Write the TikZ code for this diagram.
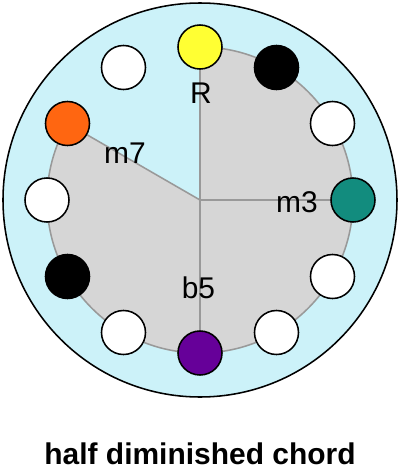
\documentclass[tikz,border=0pt]{standalone}
\usepackage{fontspec}
\setmainfont{Liberation Sans}
\definecolor{wheelbg}{HTML}{CCF2F9}
\definecolor{chordfill}{HTML}{D6D6D6}
\definecolor{chordline}{HTML}{999999}
\definecolor{rootcol}{HTML}{FFFF33}
\definecolor{thirdcol}{HTML}{128C7E}
\definecolor{fifthcol}{HTML}{660099}
\definecolor{seventhcol}{HTML}{FF6611}
\tikzset{
    note/.style={circle, draw=black, line width=1.1pt, minimum size=1.1cm, inner sep=0pt},
    interval/.style={font=\fontsize{21.3}{25}\selectfont, anchor=base, inner sep=0pt},
    spoke/.style={draw=chordline, line width=1.1pt}
}
\begin{document}
\begin{tikzpicture}[x=0.025cm, y=0.025cm]
    \useasboundingbox (-200,-269) rectangle (200,200);

    \coordinate (c) at (0,0);

    % Wheel background
    \filldraw[fill=wheelbg, draw=black, line width=1.1pt] (c) circle (197);

    % Chord region (R round to m7)
    \filldraw[fill=chordfill, spoke] (c) -- (90:153) arc[start angle=90, end angle=-210, radius=153] -- cycle;

    % Notes
    \foreach \k/\col in {0/rootcol, 1/black, 2/white, 3/thirdcol, 4/white, 5/white,
                         6/fifthcol, 7/white, 8/black, 9/white, 10/seventhcol, 11/white}
        \node[note, fill=\col] (n\k) at ({90-30*\k}:153) {};

    % Spokes to the chord tones
    \draw[spoke] (c) -- (n3);
    \draw[spoke] (c) -- (n6);

    % Interval labels
    \node[interval] (lR) at (1,97) {R};
    \node[interval] (lm3) at (97,-12) {m3};
    \node[interval] (lb5) at (-1.5,-98) {b5};
    \node[interval] (lm7) at (-75,37) {m7};

    % Title
    \node[anchor=base, inner sep=0pt, font=\bfseries\fontsize{21.3}{25}\selectfont] (title) at (0,-264) {half diminished chord};
\end{tikzpicture}
\end{document}
